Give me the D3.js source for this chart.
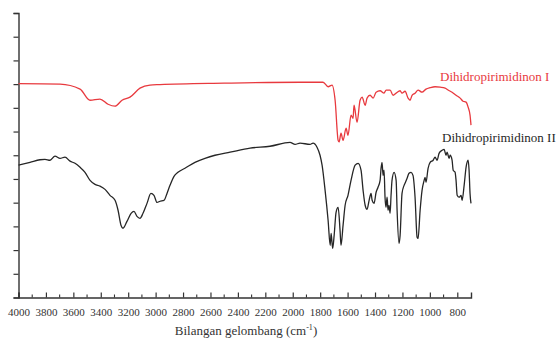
<!DOCTYPE html>
<html>
<head>
<meta charset="utf-8">
<script src="https://cdn.jsdelivr.net/npm/d3@7"></script>
<style>
  body { margin: 0; background: #fff; }
  svg { display: block; font-family: "Liberation Serif", "Times New Roman", serif; }
</style>
</head>
<body>
<div id="chart"></div>
<script>
// FTIR spectra, [wavenumber cm-1, transmittance (arbitrary units)]
const seriesI = [
  [4000, 90.2], [3697, 90.0], [3551, 87.9], [3478, 83.2], [3406, 83.7], [3347, 81.5],
  [3296, 80.7], [3245, 83.2], [3187, 84.5], [3114, 88.3], [3041, 89.6], [2968, 89.8],
  [2500, 90.4], [1947, 90.8], [1779, 90.8], [1742, 88.9], [1713, 89.6], [1691, 83.2],
  [1669, 66.3], [1662, 65.6], [1648, 69.3], [1633, 66.3], [1611, 71.4], [1597, 68.4],
  [1575, 76.9], [1560, 75.6], [1553, 81.1], [1531, 73.9], [1509, 83.2], [1494, 84.5],
  [1472, 81.1], [1458, 84.1], [1436, 85.3], [1414, 84.1], [1392, 86.6], [1363, 87.2],
  [1334, 86.2], [1319, 87.5], [1290, 87.5], [1268, 85.3], [1246, 86.2], [1217, 87.2],
  [1203, 86.2], [1181, 87.0], [1159, 84.1], [1144, 83.2], [1130, 85.3], [1108, 86.2],
  [1086, 87.5], [1057, 86.6], [1028, 87.9], [998, 88.5], [962, 88.9], [925, 88.7],
  [889, 88.3], [867, 87.5], [838, 86.6], [809, 85.3], [779, 84.1], [758, 82.8],
  [736, 82.4], [721, 80.3], [707, 76.9], [700, 72.7]
];

const seriesII = [
  [4000, 55.8], [3916, 57.0], [3843, 58.1], [3807, 58.3], [3770, 57.9], [3734, 59.6],
  [3697, 58.7], [3661, 59.2], [3624, 57.5], [3588, 56.6], [3551, 54.9], [3515, 52.8],
  [3478, 49.4], [3442, 47.7], [3406, 47.0], [3369, 45.6], [3333, 43.1], [3296, 41.0],
  [3274, 36.8], [3252, 30.4], [3238, 29.2], [3209, 32.1], [3179, 35.5], [3158, 36.3],
  [3136, 34.2], [3114, 33.4], [3092, 35.5], [3063, 39.7], [3034, 43.9], [3012, 43.1],
  [2990, 40.1], [2968, 40.6], [2939, 41.0], [2917, 43.9], [2895, 47.3], [2866, 51.1],
  [2837, 52.8], [2786, 54.5], [2713, 57.0], [2640, 58.7], [2567, 60.0], [2457, 61.3],
  [2311, 63.0], [2166, 63.8], [2020, 65.4], [1983, 64.6], [1947, 65.1], [1874, 64.6],
  [1852, 65.1], [1823, 63.4], [1801, 60.0], [1786, 55.8], [1764, 45.2], [1742, 32.5],
  [1727, 22.0], [1720, 27.0], [1709, 20.7], [1698, 26.2], [1684, 35.9], [1669, 38.0],
  [1655, 28.3], [1648, 22.0], [1633, 30.4], [1618, 38.9], [1597, 43.1], [1575, 49.4],
  [1545, 55.8], [1523, 56.6], [1502, 53.7], [1487, 45.2], [1472, 38.9], [1458, 37.2],
  [1443, 41.0], [1429, 43.9], [1421, 41.0], [1407, 39.7], [1392, 44.4], [1378, 46.5],
  [1363, 49.4], [1356, 54.5], [1349, 57.0], [1341, 51.5], [1334, 53.7], [1327, 42.3],
  [1320, 38.0], [1312, 42.3], [1305, 36.8], [1298, 38.9], [1290, 35.5], [1283, 43.1],
  [1276, 49.4], [1261, 52.8], [1246, 49.4], [1239, 36.8], [1225, 22.8], [1217, 26.2],
  [1203, 43.9], [1188, 47.3], [1181, 48.2], [1166, 50.3], [1152, 52.4], [1137, 52.8],
  [1123, 51.5], [1108, 42.3], [1093, 25.4], [1086, 24.9], [1071, 36.8], [1057, 45.2],
  [1042, 49.4], [1035, 50.7], [1028, 48.6], [1013, 54.5], [998, 57.0], [976, 57.9],
  [962, 59.2], [947, 57.9], [933, 60.8], [911, 62.1], [896, 62.5], [882, 60.0],
  [874, 61.3], [860, 58.7], [852, 60.0], [838, 57.9], [830, 53.7], [816, 52.8],
  [809, 49.4], [801, 43.1], [787, 42.3], [772, 43.1], [765, 41.0], [750, 47.3],
  [736, 54.9], [721, 57.9], [714, 53.7], [707, 43.9], [700, 39.7]
];

const seriesNames = ['Dihidropirimidinon I', 'Dihidropirimidinon II'];
const seriesColors = ['#e8393e', '#262626'];
const xMajorTicks = d3.range(4000, 799, -200);
const xMinorTicks = d3.range(3900, 700, -200);
const yTicks = d3.range(0, 121, 10);

const width = 557, height = 343;
const x = d3.scaleLinear().domain([4000, 700]).range([18.5, 471]);
const y = d3.scaleLinear().domain([0, 120]).range([297.5, 13]);

const svg = d3.select('#chart').append('svg')
  .attr('width', width)
  .attr('height', height);

// x axis: major ticks with labels, minor ticks in between
const xAxis = svg.append('g')
  .attr('transform', 'translate(0,' + y(0) + ')')
  .call(d3.axisBottom(x).tickValues(xMajorTicks).tickSize(-5).tickPadding(11).tickFormat(d3.format('d')));
xAxis.select('.domain').attr('stroke', '#333').attr('stroke-width', 1.4);
xAxis.selectAll('.tick line').attr('stroke', '#333').attr('stroke-width', 1.2);
xAxis.selectAll('.tick text')
  .attr('fill', '#333')
  .style('font-size', '11px')
  .style('font-family', '"Liberation Serif", serif');

svg.append('g')
  .selectAll('line')
  .data(xMinorTicks)
  .enter()
  .append('line')
  .attr('x1', d => x(d)).attr('x2', d => x(d))
  .attr('y1', y(0)).attr('y2', y(0) - 3)
  .attr('stroke', '#333')
  .attr('stroke-width', 1.1);

// y axis without labels
const yAxis = svg.append('g')
  .attr('transform', 'translate(' + x(4000) + ',0)')
  .call(d3.axisLeft(y).tickValues(yTicks).tickSize(5).tickFormat(''));
yAxis.select('.domain').attr('stroke', '#333').attr('stroke-width', 1.4);
yAxis.selectAll('.tick line').attr('stroke', '#333').attr('stroke-width', 1.2);

// spectra
const line = d3.line()
  .x(d => x(d[0]))
  .y(d => y(d[1]))
  .curve(d3.curveMonotoneX);

[seriesI, seriesII].forEach((s, i) => {
  svg.append('path')
    .datum(s)
    .attr('fill', 'none')
    .attr('stroke', seriesColors[i])
    .attr('stroke-width', 1.3)
    .attr('stroke-linejoin', 'round')
    .attr('d', line);
});

// labels next to curves
svg.append('text')
  .attr('x', 440).attr('y', 81)
  .attr('fill', seriesColors[0])
  .style('font-size', '13px')
  .text(seriesNames[0]);

svg.append('text')
  .attr('x', 442).attr('y', 142)
  .attr('fill', seriesColors[1])
  .style('font-size', '13px')
  .text(seriesNames[1]);

// axis title
const title = svg.append('text')
  .attr('x', 246).attr('y', 335)
  .attr('text-anchor', 'middle')
  .attr('fill', '#333')
  .style('font-size', '13px');
title.append('tspan').text('Bilangan gelombang (cm');
title.append('tspan').attr('dy', -5).style('font-size', '8px').text('-1');
title.append('tspan').attr('dy', 5).text(')');
</script>
</body>
</html>
